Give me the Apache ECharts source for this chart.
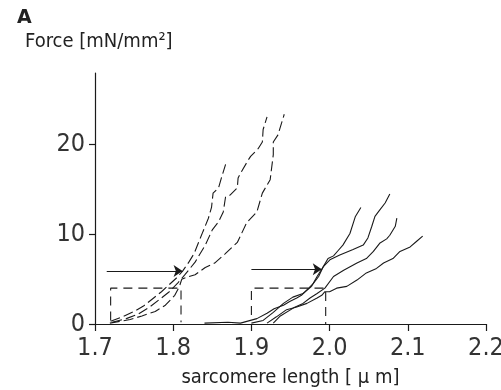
<!DOCTYPE html>
<html>
<head>
<meta charset="utf-8">
<script src="https://cdn.jsdelivr.net/npm/echarts@6/dist/echarts.min.js"></script>
<style>
html,body{margin:0;padding:0;background:#fff;}
#chart{width:501px;height:390px;}
</style>
</head>
<body>
<div id="chart"></div>
<script>
// ---- data ----
var xTicks = [1.7, 1.8, 1.9, 2.0, 2.1, 2.2];
var yTicks = [0, 10, 20];

// passive (dashed) traces, left group
var left1 = [[1.720,0.3],[1.735,0.8],[1.750,1.4],[1.762,2.0],[1.775,2.9],[1.785,3.6],[1.795,4.4],[1.805,5.2],[1.812,5.9],[1.820,6.9],[1.827,7.9],[1.832,9.0],[1.838,10.3],[1.845,11.8],[1.849,13.0],[1.851,14.6],[1.858,15.2],[1.862,16.4],[1.867,17.8]];
var left2 = [[1.722,0.2],[1.740,0.6],[1.755,1.1],[1.770,1.9],[1.782,2.7],[1.795,3.6],[1.806,4.6],[1.815,5.5],[1.828,6.9],[1.841,8.8],[1.850,10.5],[1.858,11.4],[1.864,12.5],[1.867,14.2],[1.873,14.4],[1.882,15.2],[1.883,16.3],[1.886,16.8],[1.896,18.3],[1.899,18.7],[1.909,19.6],[1.914,20.3],[1.915,21.7],[1.920,23.1]];
var left3 = [[1.719,0.1],[1.745,0.5],[1.760,0.9],[1.777,1.4],[1.790,2.1],[1.802,3.2],[1.808,4.2],[1.811,5.0],[1.820,5.3],[1.828,5.5],[1.841,6.3],[1.853,6.8],[1.866,7.8],[1.882,9.1],[1.894,11.3],[1.907,12.5],[1.914,14.6],[1.924,16.1],[1.928,18.9],[1.928,20.3],[1.934,21.1],[1.942,23.4]];

// solid traces, right group
var right1 = [[1.840,0.1],[1.870,0.2],[1.886,0.1],[1.907,0.6],[1.920,1.2],[1.929,1.7],[1.941,2.1],[1.949,2.5],[1.958,2.9],[1.964,3.2],[1.971,3.8],[1.979,4.5],[1.986,5.3],[1.992,6.4],[1.998,7.3],[2.005,7.6],[2.011,8.2],[2.017,8.8],[2.026,10.1],[2.033,12.0],[2.040,13.0]];
var right2 = [[1.900,0.1],[1.915,0.4],[1.928,1.3],[1.941,2.3],[1.953,3.0],[1.966,3.4],[1.977,4.2],[1.984,5.3],[1.992,6.4],[2.001,7.2],[2.013,7.7],[2.030,8.3],[2.043,8.8],[2.049,9.6],[2.054,10.9],[2.058,12.0],[2.064,12.7],[2.071,13.5],[2.077,14.5]];
var right3 = [[1.928,0.1],[1.937,0.9],[1.954,1.8],[1.966,2.3],[1.975,2.9],[1.984,3.4],[1.994,4.0],[2.005,5.3],[2.018,6.0],[2.035,6.8],[2.047,7.3],[2.056,8.1],[2.064,9.0],[2.073,9.5],[2.077,9.9],[2.084,10.9],[2.086,11.8]];
var right4 = [[1.920,0.1],[1.932,0.8],[1.945,1.6],[1.958,1.9],[1.971,2.3],[1.984,2.9],[1.990,3.2],[1.994,3.6],[2.000,3.6],[2.009,4.0],[2.022,4.2],[2.035,4.9],[2.047,5.7],[2.060,6.2],[2.069,6.8],[2.081,7.3],[2.090,8.1],[2.103,8.6],[2.111,9.2],[2.119,9.8]];

// dashed boxes and arrows
var boxLeft = [[1.720,0.4],[1.720,4.0],[1.810,4.0],[1.810,0.2]];
var boxRight = [[1.900,1.0],[1.900,4.0],[1.995,4.0],[1.995,0.0]];
var arrowLeft = [[1.715,5.9],[1.812,5.9]];
var arrowRight = [[1.900,6.1],[1.990,6.1]];

var ink = '#1a1a1a';
var labelFont = "'DejaVu Sans Condensed', 'DejaVu Sans', sans-serif";

function trace(d, dashed) {
  return {
    type: 'line', data: d, showSymbol: false, symbol: 'none', silent: true,
    lineStyle: { color: ink, width: 1.1, type: dashed ? [10, 4] : 'solid' },
    z: 3
  };
}
function box(d) {
  return {
    type: 'line', data: d, showSymbol: false, symbol: 'none', silent: true,
    lineStyle: { color: ink, width: 1.1, type: [9, 6] }, z: 2
  };
}
function arrow(d) {
  return {
    type: 'line', data: [], silent: true,
    markLine: {
      silent: true, symbol: ['none', 'arrow'], symbolSize: 9,
      label: { show: false },
      lineStyle: { color: ink, width: 1.1, type: 'solid' },
      data: [[{ coord: d[0] }, { coord: d[1] }]]
    }
  };
}

var chart = echarts.init(document.getElementById('chart'));
chart.setOption({
  animation: false,
  backgroundColor: '#fff',
  title: [
    { text: 'A', left: 12, top: 4, textStyle: { fontFamily: "'DejaVu Sans', sans-serif", fontSize: 19, fontWeight: 'bold', color: '#222' } },
    { text: 'Force [mN/mm²]', left: 20, top: 27, textStyle: { fontFamily: labelFont, fontSize: 20, fontWeight: 'normal', color: '#222' } }
  ],
  grid: { left: 95, right: 15, top: 73, bottom: 66, containLabel: false, outerBoundsMode: 'none' },
  xAxis: {
    type: 'value', min: 1.7, max: 2.2, interval: 0.1,
    name: 'sarcomere length [ μ m]', nameLocation: 'middle', nameGap: 44,
    nameTextStyle: { fontFamily: labelFont, fontSize: 20, color: '#222' },
    axisLine: { lineStyle: { color: ink, width: 1.2 } },
    axisTick: { show: true, length: 7, inside: false, customValues: xTicks, lineStyle: { color: ink, width: 1.2 } },
    axisLabel: { customValues: xTicks, margin: 12, fontFamily: labelFont, fontSize: 25, color: '#333',
      formatter: function (v) { return v.toFixed(1); } },
    splitLine: { show: false }
  },
  yAxis: {
    type: 'value', min: 0, max: 28, interval: 10,
    axisLine: { show: true, lineStyle: { color: ink, width: 1.2 } },
    axisTick: { show: true, length: 6, inside: false, customValues: yTicks, lineStyle: { color: ink, width: 1.2 } },
    axisLabel: { customValues: yTicks, margin: 10, fontFamily: labelFont, fontSize: 25, color: '#333' },
    splitLine: { show: false }
  },
  series: [
    trace(left1, true), trace(left2, true), trace(left3, true),
    trace(right1, false), trace(right2, false), trace(right3, false), trace(right4, false),
    box(boxLeft), box(boxRight),
    arrow(arrowLeft), arrow(arrowRight)
  ]
});
</script>
</body>
</html>
